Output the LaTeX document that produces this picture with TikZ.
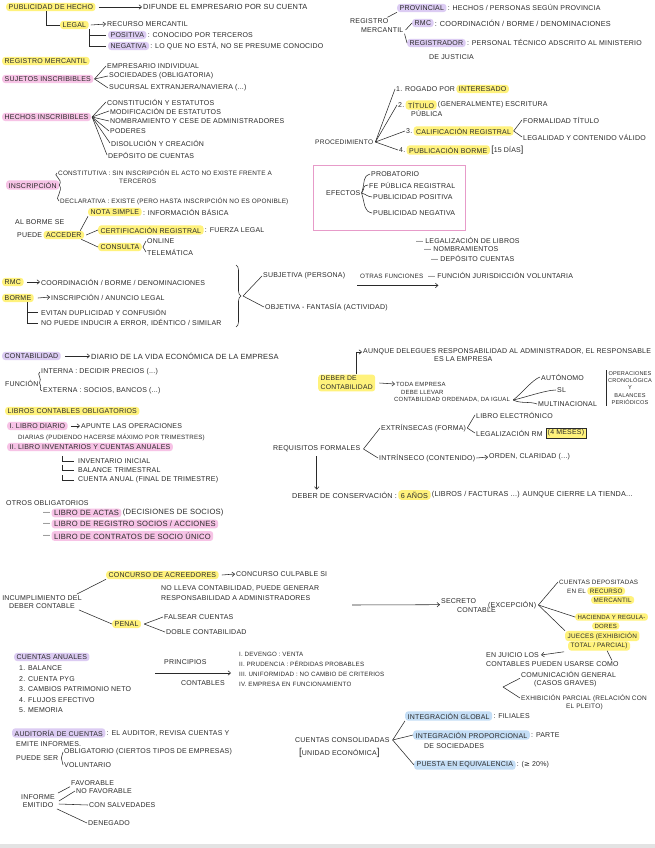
\documentclass[tikz,border=0pt]{standalone}
\usepackage{fontspec}
\setmainfont{Liberation Sans}[LetterSpace=3]
\newfontfamily\dvs{DejaVu Sans}
\usetikzlibrary{arrows.meta,decorations.pathreplacing}
\definecolor{ink}{HTML}{2A2A2A}
\definecolor{hly}{HTML}{FFF27C}
\definecolor{hlp}{HTML}{F7C3E6}
\definecolor{hll}{HTML}{DCCCF3}
\definecolor{hlb}{HTML}{C4DEF6}
\definecolor{boxp}{HTML}{E79BC9}
\newcommand{\tfs}{\fontsize{7}{8.5}\selectfont}
\newcommand{\fz}[1]{\fontsize{#1}{8.5}\selectfont}
\begin{document}
\begin{tikzpicture}[x=1pt,y=-1pt,
  tx/.style={anchor=west, inner sep=1pt, font=\tfs, text=ink},
  hy/.style={tx, fill=hly, rounded corners=3pt, inner xsep=2.5pt, inner ysep=1.6pt},
  hp/.style={hy, fill=hlp},
  hl/.style={hy, fill=hll},
  hb/.style={hy, fill=hlb},
  ln/.style={draw=ink, line width=0.55pt},
  arr/.style={ln, -{Straight Barb[length=2.6pt,width=4.5pt]}}]
\fill[white] (0,0) rectangle (655,848);
\useasboundingbox (0,0) rectangle (655,848);
\fill[gray!22] (0,844) rectangle (655,848);

% ---------- top left
\node[hy] (pub) at (6,7) {PUBLICIDAD DE HECHO};
\node[tx, font=\fz{7.4}] (dif) at (142,7) {DIFUNDE EL EMPRESARIO POR SU CUENTA};
\draw[arr] ([xshift=3pt]pub.east) -- (dif.west);
\node[hy] (legal) at (60,25) {LEGAL};
\draw[ln] ([xshift=40pt]pub.south west) |- (legal.west);
\node[tx] (rec) at (106,24) {RECURSO MERCANTIL};
\draw[arr] ([xshift=2pt]legal.east) -- (rec.west);
\node[hl] (pos) at (108,35) {POSITIVA};
\node[tx] (posd) at (pos.east) {: CONOCIDO POR TERCEROS};
\node[hl] (neg) at (108,46) {NEGATIVA};
\node[tx] (negd) at (neg.east) {: LO QUE NO ESTÁ, NO SE PRESUME CONOCIDO};
\draw[ln] (legal.south east) |- ([xshift=-2pt]pos.west);
\draw[ln] (legal.south east) |- ([xshift=-2pt]neg.west);

\node[hy] (rm) at (2,61) {REGISTRO MERCANTIL};
\node[hp] (suj) at (2,79) {SUJETOS INSCRIBIBLES};
\node[tx] (s1) at (106,66) {EMPRESARIO INDIVIDUAL};
\node[tx] (s2) at (108,76) {SOCIEDADES (OBLIGATORIA)};
\node[tx] (s3) at (108,88) {SUCURSAL EXTRANJERA/NAVIERA (...)};
\foreach \n in {s1,s2,s3} \draw[ln] ([xshift=1pt]suj.east) -- (\n.west);

\node[hp] (hec) at (2,117) {HECHOS INSCRIBIBLES};
\node[tx] (h1) at (106,102) {CONSTITUCIÓN Y ESTATUTOS};
\node[tx] (h2) at (109,111) {MODIFICACIÓN DE ESTATUTOS};
\node[tx] (h3) at (109,121) {NOMBRAMIENTO Y CESE DE ADMINISTRADORES};
\node[tx] (h4) at (109,131) {PODERES};
\node[tx] (h5) at (110,143) {DISOLUCIÓN Y CREACIÓN};
\node[tx] (h6) at (107,155) {DEPÓSITO DE CUENTAS};
\foreach \n in {h1,h2,h3,h4,h5,h6} \draw[ln] ([xshift=1pt]hec.east) -- (\n.west);

\node[hp] (insc) at (6,185) {INSCRIPCIÓN};
\node[tx, font=\fz{6.4}] (c1) at (57,173) {CONSTITUTIVA : SIN INSCRIPCIÓN EL ACTO NO EXISTE FRENTE A};
\node[tx, font=\fz{6.4}] (c1b) at (118,181) {TERCEROS};
\node[tx, font=\fz{6.4}] (c2) at (59,201) {DECLARATIVA : EXISTE (PERO HASTA INSCRIPCIÓN NO ES OPONIBLE)};
\draw[ln] (insc.east) .. controls +(4,-6) and +(-5,2) .. (c1.west);
\draw[ln] (insc.east) .. controls +(4,6) and +(-5,-2) .. (c2.west);

\node[tx] (albo) at (14,222) {AL BORME SE};
\node[tx] (pue) at (16,235) {PUEDE};
\node[hy] (acc) at (pue.east) {ACCEDER};
\node[hy] (ns) at (88,212) {NOTA SIMPLE};
\node[tx] (nsd) at (ns.east) {: INFORMACIÓN BÁSICA};
\node[hy] (cert) at (98,230) {CERTIFICACIÓN REGISTRAL};
\node[tx] (certd) at (cert.east) {: FUERZA LEGAL};
\node[hy] (consu) at (98,247) {CONSULTA};
\node[tx] (onl) at (146,241) {ONLINE};
\node[tx] (tel) at (146,252) {TELEMÁTICA};
\draw[ln] ([xshift=-4pt]acc.north east) -- (ns.south west);
\draw[ln] ([xshift=2pt]acc.east) -- (cert.west);
\draw[ln] ([xshift=-3pt]acc.south east) -- (consu.west);
\draw[ln] ([xshift=1pt]consu.east) -- (onl.west);
\draw[ln] ([xshift=1pt]consu.east) -- (tel.west);

% ---------- RMC / BORME
\node[hy] (rmc) at (2,282) {RMC};
\node[tx] (rmcd) at (40,282) {COORDINACIÓN / BORME / DENOMINACIONES};
\draw[arr] ([xshift=3pt]rmc.east) -- (rmcd.west);
\node[hy] (bor) at (2,298) {BORME};
\node[tx] (bord) at (50,297) {INSCRIPCIÓN / ANUNCIO LEGAL};
\draw[arr] ([xshift=4pt]bor.east) -- (bord.west);
\node[tx] (ev) at (40,312) {EVITAN DUPLICIDAD Y CONFUSIÓN};
\node[tx] (np) at (40,323) {NO PUEDE INDUCIR A ERROR, IDÉNTICO / SIMILAR};
\draw[ln] ([xshift=9pt]bor.south) |- ([xshift=-2pt]ev.west);
\draw[ln] ([xshift=9pt]bor.south) |- ([xshift=-2pt]np.west);

\coordinate (brt) at (236,265);
\coordinate (brb) at (236,327);
\draw[ln, decorate, decoration={brace, amplitude=5pt}] (brt) -- (brb);
\coordinate (brtip) at (243,296);
\node[tx] (sub) at (262,276) {SUBJETIVA (PERSONA)};
\node[tx] (obj) at (264,307) {OBJETIVA - FANTASÍA (ACTIVIDAD)};
\draw[ln] (brtip) -- (sub.west);
\draw[ln] (brtip) -- (obj.west);

% ---------- top right
\node[tx] (rg1) at (349,21) {REGISTRO};
\node[tx] (rg2) at (360,30) {MERCANTIL};
\node[hl] (prov) at (397,8) {PROVINCIAL};
\node[tx] (provd) at (prov.east) {: HECHOS / PERSONAS SEGÚN PROVINCIA};
\node[hl] (rmc2) at (412,23) {RMC};
\node[tx, font=\fz{7.3}] (rmc2d) at (rmc2.east) {: COORDINACIÓN / BORME / DENOMINACIONES};
\node[hl] (regr) at (407,43) {REGISTRADOR};
\node[tx] (regrd) at (regr.east) {: PERSONAL TÉCNICO ADSCRITO AL MINISTERIO};
\node[tx] (dej) at (428,57) {DE JUSTICIA};
\draw[ln] ([xshift=-2pt]rg1.north east) -- (prov.south west);
\draw[ln] ([xshift=1pt]rg2.east) -- (rmc2.west);
\draw[ln] (rg2.south east) -- (regr.west);

\node[tx, font=\fz{6.6}] (proc) at (314,142) {PROCEDIMIENTO};
\node[tx] (p1) at (395,89) {1. ROGADO POR};
\node[hy] (p1h) at (p1.east) {INTERESADO};
\node[tx] (p2) at (397,105) {2.};
\node[hy] (p2h) at (p2.east) {TÍTULO};
\node[tx] (p2d) at (p2h.east) {(GENERALMENTE) ESCRITURA};
\node[tx] (p2e) at (410,113) {PÚBLICA};
\node[tx] (p3) at (405,131) {3.};
\node[hy] (p3h) at (p3.east) {CALIFICACIÓN REGISTRAL};
\node[tx] (fo) at (522,120) {FORMALIDAD TÍTULO};
\node[tx] (le) at (522,137) {LEGALIDAD Y CONTENIDO VÁLIDO};
\node[tx] (p4) at (398,150) {4.};
\node[hy] (p4h) at (p4.east) {PUBLICACIÓN BORME};
\node[tx] (p4d) at (p4h.east) {{\fontsize{9}{9}\selectfont[}15 DÍAS{\fontsize{9}{9}\selectfont]}};
\foreach \n in {p1,p2,p3,p4} \draw[ln] ([xshift=1pt]proc.east) -- (\n.west);
\draw[ln] (p3h.east) -- (fo.west);
\draw[ln] (p3h.east) -- (le.west);

\draw[boxp, line width=1pt] (313,165) rectangle (465,230);
\node[tx] (efe) at (325,193) {EFECTOS};
\node[tx] (e1) at (370,174) {PROBATORIO};
\node[tx] (e2) at (368,185) {FE PÚBLICA REGISTRAL};
\node[tx] (e3) at (372,197) {PUBLICIDAD POSITIVA};
\node[tx] (e4) at (372,213) {PUBLICIDAD NEGATIVA};
\draw[ln] (efe.east) .. controls +(4,-12) and +(-8,3) .. (e1.west);
\draw[ln] (efe.east) .. controls +(4,-6) and +(-6,1) .. (e2.west);
\draw[ln] (efe.east) .. controls +(6,2) and +(-6,-1) .. (e3.west);
\draw[ln] (efe.east) .. controls +(4,14) and +(-8,-2) .. (e4.west);

\node[tx] (lg) at (415,240) {— LEGALIZACIÓN DE LIBROS};
\node[tx] (nm) at (423,249) {— NOMBRAMIENTOS};
\node[tx] (dp) at (430,258) {— DEPÓSITO CUENTAS};
\node[tx, font=\fz{6.3}] (of) at (359,276) {OTRAS FUNCIONES};
\node[tx] (fj) at (427,275) {— FUNCIÓN JURISDICCIÓN VOLUNTARIA};
\draw[arr] ([shift={(-2,6)}]of.south west) -- ([shift={(14,6)}]of.south east);

% ---------- contabilidad
\node[hl] (cont) at (2,356) {CONTABILIDAD};
\node[tx, font=\fz{7.5}] (contd) at (90,356) {DIARIO DE LA VIDA ECONÓMICA DE LA EMPRESA};
\draw[arr] ([xshift=4pt]cont.east) -- (contd.west);
\node[tx] (fun) at (4,383) {FUNCIÓN};
\node[tx] (fi) at (40,372) {INTERNA : DECIDIR PRECIOS (...)};
\node[tx] (fe) at (42,391) {EXTERNA : SOCIOS, BANCOS (...)};
\draw[ln] (fun.east) .. controls +(3,-5) and +(-4,2) .. (fi.west);
\draw[ln] (fun.east) .. controls +(3,5) and +(-4,-2) .. (fe.west);

\node[hy] (lco) at (5,411) {LIBROS CONTABLES OBLIGATORIOS};
\node[hp] (ld) at (7,426) {I. LIBRO DIARIO};
\node[tx] (ldd) at (80,426) {APUNTE LAS OPERACIONES};
\draw[arr] ([xshift=3pt]ld.east) -- (ldd.west);
\node[tx, font=\fz{6.2}] (ldd2) at (17,437) {DIARIAS (PUDIENDO HACERSE MÁXIMO POR TRIMESTRES)};
\node[hp] (li) at (7,447) {II. LIBRO INVENTARIOS Y CUENTAS ANUALES};
\node[tx] (i1) at (77,461) {INVENTARIO INICIAL};
\node[tx] (i2) at (77,470) {BALANCE TRIMESTRAL};
\node[tx] (i3) at (77,480) {CUENTA ANUAL (FINAL DE TRIMESTRE)};
\foreach \n in {i1,i2,i3} \draw[ln] ([shift={(-15,-5)}]\n.west) |- ([xshift=-3pt]\n.west);

\node[tx] (oo) at (5,503) {OTROS OBLIGATORIOS};
\node[tx] (d1) at (42,513) {—};
\node[hp, font=\fz{7.6}] (la) at (d1.east) {LIBRO DE ACTAS};
\node[tx, font=\fz{7.6}] (lad) at (la.east) {(DECISIONES DE SOCIOS)};
\node[tx] (d2) at (42,524) {—};
\node[hp, font=\fz{7.6}] (lr) at (d2.east) {LIBRO DE REGISTRO SOCIOS / ACCIONES};
\node[tx] (d3) at (42,536) {—};
\node[hp, font=\fz{7.6}] (lc) at (d3.east) {LIBRO DE CONTRATOS DE SOCIO ÚNICO};

% ---------- deber de contabilidad
\node[hy, align=left, font=\fontsize{6.8}{9}\selectfont] (dc) at (318,383) {DEBER DE\\CONTABILIDAD};
\node[tx] (aun) at (362,352) {AUNQUE DELEGUES RESPONSABILIDAD AL ADMINISTRADOR, EL RESPONSABLE};
\node[tx] (aun2) at (433,359) {ES LA EMPRESA};
\draw[arr] ([xshift=10pt]dc.north) |- (aun.west);
\node[tx, font=\fz{6}] (te1) at (395,384) {TODA EMPRESA};
\node[tx, font=\fz{6}] (te2) at (400,392) {DEBE LLEVAR};
\node[tx, font=\fz{6}] (te3) at (393,400) {CONTABILIDAD ORDENADA, DA IGUAL};
\draw[arr] ([xshift=4pt]dc.east) -- (te1.west);
\node[tx] (au) at (540,377) {AUTÓNOMO};
\node[tx] (sl) at (556,390) {SL};
\node[tx] (mu) at (537,404) {MULTINACIONAL};
\draw[ln] ([xshift=2pt]te3.east) .. controls +(8,-6) and +(-8,3) .. (au.west);
\draw[ln] ([xshift=2pt]te3.east) .. controls +(10,-2) and +(-10,0) .. (sl.west);
\draw[ln] ([xshift=2pt]te3.east) .. controls +(8,4) and +(-8,-3) .. (mu.west);
\node[tx, align=center, font=\fontsize{5.6}{7.2}\selectfont, anchor=center] (op) at (630,388) {OPERACIONES\\CRONOLÓGICA\\Y\\BALANCES\\PERIÓDICOS};
\draw[ln] ([xshift=-1pt]op.north west) -- ([xshift=-1pt]op.south west);

\node[tx] (rf) at (272,449) {REQUISITOS FORMALES};
\node[tx] (ex) at (380,428) {EXTRÍNSECAS (FORMA)};
\node[tx] (it) at (378,458) {INTRÍNSECO (CONTENIDO)};
\node[tx] (le1) at (475,415) {LIBRO ELECTRÓNICO};
\node[tx] (le2) at (475,433) {LEGALIZACIÓN RM};
\node[tx, draw=ink, fill=hly, inner sep=1.6pt] (cm) at ([xshift=2pt]le2.east) {(4 MESES)};
\node[tx] (ord) at (488,457) {ORDEN, CLARIDAD (...)};
\draw[ln] ([xshift=2pt]rf.east) -- (ex.west);
\draw[ln] ([xshift=2pt]rf.east) -- (it.west);
\draw[ln] (ex.east) -- (le1.west);
\draw[ln] (ex.east) -- (le2.west);
\draw[arr] (it.east) -- (ord.west);
\node[tx, font=\fz{7.2}] (dcn) at (291,495) {DEBER DE CONSERVACIÓN :};
\node[hy, font=\fz{7.2}] (sa) at (dcn.east) {6 AÑOS};
\node[tx, font=\fz{7.2}] (sad) at (sa.east) {(LIBROS / FACTURAS ...) AUNQUE CIERRE LA TIENDA...};
\draw[arr] ([shift={(0,3)}]rf.south) -- ([shift={(0,-1)}]rf.south |- dcn.north);

% ---------- incumplimiento / secreto
\node[tx, align=center, anchor=center] (inc) at (42,602) {INCUMPLIMIENTO DEL\\DEBER CONTABLE};
\node[hy] (cac) at (106,575) {CONCURSO DE ACREEDORES};
\node[tx] (ccu) at (235,574) {CONCURSO CULPABLE SI};
\draw[arr] ([xshift=3pt]cac.east) -- (ccu.west);
\node[tx] (nll) at (160,588) {NO LLEVA CONTABILIDAD, PUEDE GENERAR};
\node[tx] (rad) at (160,598) {RESPONSABILIDAD A ADMINISTRADORES};
\node[hy] (pen) at (112,624) {PENAL};
\draw[ln] ([xshift=-6pt]inc.north east) -- (cac.south west);
\draw[ln] ([xshift=-4pt]inc.south east) -- (pen.west);
\node[tx] (fal) at (163,617) {FALSEAR CUENTAS};
\node[tx] (dob) at (165,632) {DOBLE CONTABILIDAD};
\draw[ln] ([xshift=3pt]pen.east) -- (fal.west);
\draw[ln] ([xshift=3pt]pen.east) -- (dob.west);

\coordinate (sa0) at (352,605);
\node[tx] (sec) at (440,601) {SECRETO};
\node[tx] (sec2) at (456,610) {CONTABLE};
\node[tx] (exc) at (487,605) {(EXCEPCIÓN)};
\draw[arr] (sa0) -- (sec.south west);
\node[tx, font=\fz{6.3}] (cd1) at (558,582) {CUENTAS DEPOSITADAS};
\node[tx, font=\fz{6.3}] (cd2) at (566,591) {EN EL};
\node[hy, font=\fz{6.3}] (cd3) at (cd2.east) {RECURSO};
\node[hy, font=\fz{6.3}] (cd4) at (591,600) {MERCANTIL};
\node[hy, font=\fz{6}] (ha1) at (575,617) {HACIENDA Y REGULA-};
\node[hy, font=\fz{6}] (ha2) at (592,626) {DORES};
\node[hy, font=\fz{6.4}] (ju1) at (565,636) {JUECES (EXHIBICIÓN};
\node[hy, font=\fz{6.4}] (ju2) at (568,646) {TOTAL / PARCIAL)};
\draw[ln] ([xshift=1pt]exc.east) -- (cd1.west);
\draw[ln] ([xshift=1pt]exc.east) -- (ha1.west);
\draw[ln] ([xshift=1pt]exc.east) -- (ju1.north west);
\node[tx] (ej) at (485,655) {EN JUICIO LOS};
\node[tx] (cpu) at (485,664) {CONTABLES PUEDEN USARSE COMO};
\draw[arr] ([shift={(-4,1)}]ju2.south west) -- ([xshift=1pt]ej.east);
\draw[ln] ([xshift=8pt]ju2.south) -- ([xshift=-8pt]cpu.north east);
\node[tx] (com) at (520,674) {COMUNICACIÓN GENERAL};
\node[tx] (cg) at (533,684) {(CASOS GRAVES)};
\node[tx, font=\fz{6.5}] (exh) at (520,698) {EXHIBICIÓN PARCIAL (RELACIÓN CON};
\node[tx, font=\fz{6.5}] (ep) at (565,707) {EL PLEITO)};
\coordinate (cx) at (503,687);
\draw[ln] (cx) -- (com.south west);
\draw[ln] (cx) -- (exh.west);

% ---------- cuentas anuales
\node[hl] (ca) at (14,657) {CUENTAS ANUALES};
\node[tx] (ca1) at (18,668) {1. BALANCE};
\node[tx] (ca2) at (18,679) {2. CUENTA PYG};
\node[tx] (ca3) at (18,689) {3. CAMBIOS PATRIMONIO NETO};
\node[tx] (ca4) at (18,700) {4. FLUJOS EFECTIVO};
\node[tx] (ca5) at (18,710) {5. MEMORIA};
\node[tx] (pri) at (163,662) {PRINCIPIOS};
\node[tx] (pco) at (180,683) {CONTABLES};
\node[tx, font=\fz{6.2}] (pr1) at (238,654) {I. DEVENGO : VENTA};
\node[tx, font=\fz{6.2}] (pr2) at (238,664) {II. PRUDENCIA : PÉRDIDAS PROBABLES};
\node[tx, font=\fz{6.2}] (pr3) at (238,674) {III. UNIFORMIDAD : NO CAMBIO DE CRITERIOS};
\node[tx, font=\fz{6.2}] (pr4) at (238,684) {IV. EMPRESA EN FUNCIONAMIENTO};
\coordinate (pa) at (155,673);
\draw[arr] (pa) -- ([xshift=-7pt]pr3.west |- pa);

% ---------- auditoria
\node[hl] (aud) at (12,733) {AUDITORÍA DE CUENTAS};
\node[tx] (audd) at (aud.east) {: EL AUDITOR, REVISA CUENTAS Y};
\node[tx] (emi) at (15,744) {EMITE INFORMES.};
\node[tx] (ps) at (15,758) {PUEDE SER};
\node[tx] (ob) at (63,752) {OBLIGATORIO (CIERTOS TIPOS DE EMPRESAS)};
\node[tx] (vo) at (63,765) {VOLUNTARIO};
\draw[ln] ([xshift=2pt]ps.east) -- (ob.west);
\draw[ln] ([xshift=2pt]ps.east) -- (vo.west);
\node[tx, align=center, anchor=center] (ie) at (38,801) {INFORME\\EMITIDO};
\node[tx] (fa) at (70,783) {FAVORABLE};
\node[tx] (nf) at (75,791) {NO FAVORABLE};
\node[tx] (cs) at (88,805) {CON SALVEDADES};
\node[tx] (de) at (87,823) {DENEGADO};
\draw[ln] ([xshift=2pt]ie.north east) -- (fa.south west);
\draw[ln] ([xshift=3pt]ie.east) -- (nf.west);
\draw[ln] ([shift={(3,3)}]ie.east) -- (cs.west);
\draw[ln] ([xshift=1pt]ie.south east) -- (de.west);

% ---------- consolidadas
\node[tx] (cc) at (294,740) {CUENTAS CONSOLIDADAS};
\node[tx] (ue) at (298,753) {{\fontsize{10}{10}\selectfont[}UNIDAD ECONÓMICA{\fontsize{10}{10}\selectfont]}};
\node[hb] (ig) at (405,716) {INTEGRACIÓN GLOBAL};
\node[tx] (igd) at (ig.east) {: FILIALES};
\node[hb] (ip) at (413,735) {INTEGRACIÓN PROPORCIONAL};
\node[tx] (ipd) at (ip.east) {: PARTE};
\node[tx] (ipe) at (423,746) {DE SOCIEDADES};
\node[hb] (pe) at (414,765) {PUESTA EN EQUIVALENCIA};
\node[tx] (ped) at (pe.east) {: ({\dvs ≥} 20\%)};
\draw[ln] ([xshift=2pt]cc.east) -- (ig.south west);
\draw[ln] ([xshift=2pt]cc.east) -- (ip.west);
\draw[ln] ([xshift=2pt]cc.east) -- (pe.west);
\end{tikzpicture}
\end{document}
